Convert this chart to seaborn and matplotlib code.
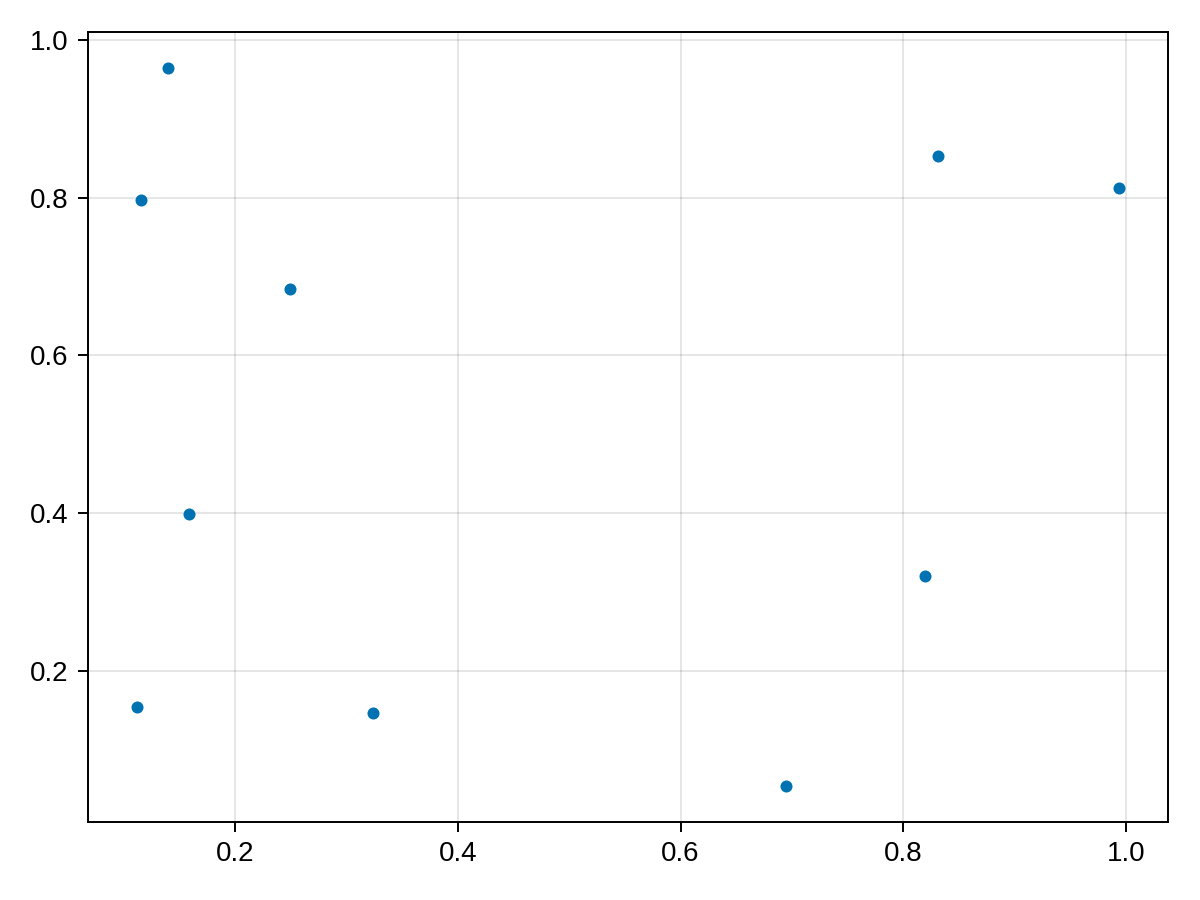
import matplotlib
matplotlib.use('Agg')
import matplotlib.pyplot as plt
import seaborn as sns

# data
x_vals = [0.1398, 0.1155, 0.2494, 0.1587, 0.1119, 0.3240, 0.6944, 0.8193, 0.8310, 0.9937]
y_vals = [0.9645, 0.7971, 0.6843, 0.3990, 0.1544, 0.1467, 0.0542, 0.3204, 0.8529, 0.8124]
x_ticks = [0.2, 0.4, 0.6, 0.8, 1.0]
y_ticks = [0.2, 0.4, 0.6, 0.8, 1.0]

sns.set_style("white")
plt.rcParams['font.family'] = ['Liberation Sans', 'DejaVu Sans']

fig = plt.figure(figsize=(12, 9), dpi=100)
ax = fig.add_axes([88/1200, 1 - 822/900, 1080/1200, 790/900])

sns.scatterplot(x=x_vals, y=y_vals, ax=ax, color='#0072B2', s=75,
                linewidth=0, zorder=3)

ax.margins(0.05)
ax.set_xticks(x_ticks)
ax.set_yticks(y_ticks)
ax.set_xticklabels([f"{t:.1f}" for t in x_ticks])
ax.set_yticklabels([f"{t:.1f}" for t in y_ticks])
ax.grid(True, color='black', alpha=0.13, linewidth=1.1)
ax.set_axisbelow(True)
for sp in ax.spines.values():
    sp.set_color('black')
    sp.set_linewidth(1.4)
ax.tick_params(axis='both', direction='out', length=7, width=1.4,
               labelsize=20, pad=7, color='black', labelcolor='black',
               bottom=True, left=True)

fig.savefig("out.png", dpi=100)
